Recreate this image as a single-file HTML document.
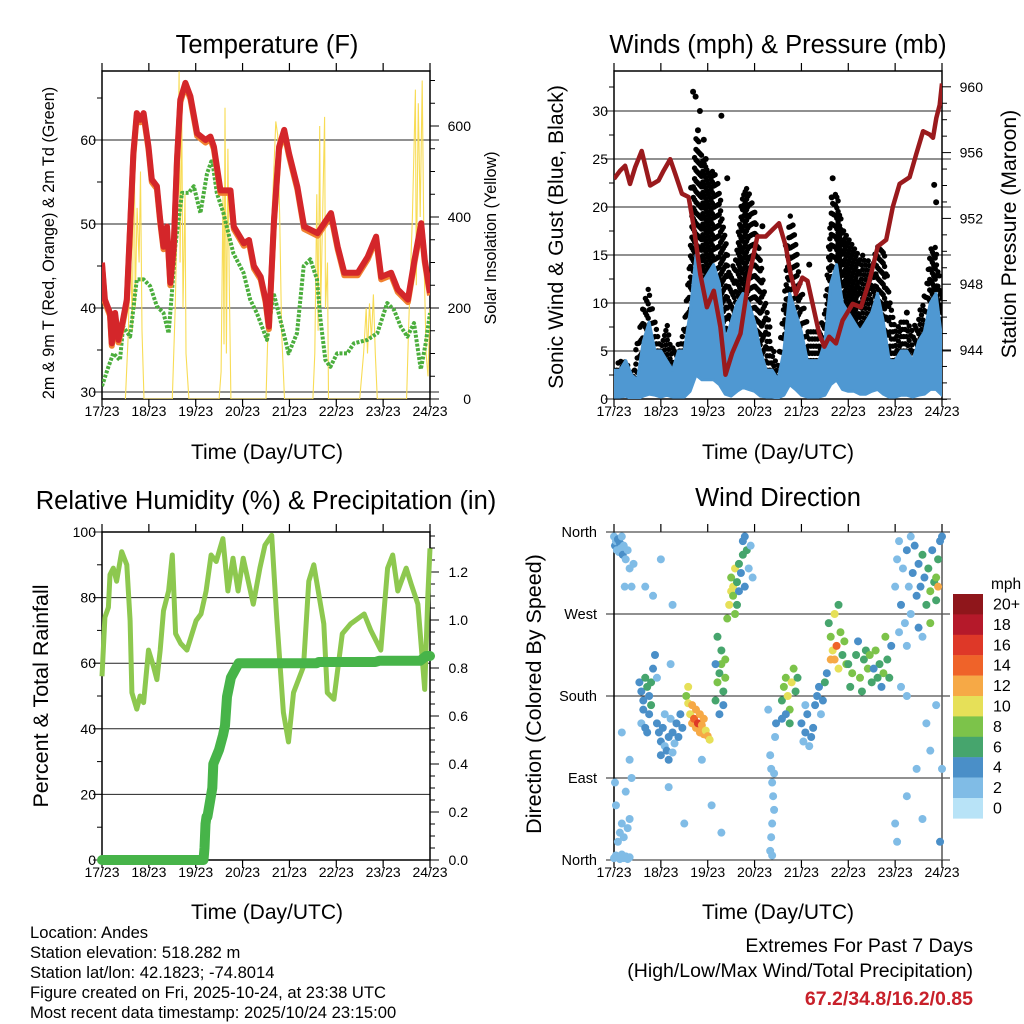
<!DOCTYPE html>
<html><head><meta charset="utf-8"><style>
body{margin:0;background:#fff;width:1024px;height:1024px;overflow:hidden;font-family:"Liberation Sans",sans-serif}
svg{display:block}
text{font-family:"Liberation Sans",sans-serif;fill:#000}
</style></head><body>
<svg id="s" width="1024" height="1024" viewBox="0 0 1024 1024">
<g>
<text x="267" y="53" font-size="25.5" text-anchor="middle">Temperature (F)</text>
<text x="778" y="53" font-size="25.5" text-anchor="middle">Winds (mph) &amp; Pressure (mb)</text>
<text x="266" y="509" font-size="25.5" text-anchor="middle">Relative Humidity (%) &amp; Precipitation (in)</text>
<text x="778" y="506" font-size="25.5" text-anchor="middle">Wind Direction</text>
</g>
<g>
<text x="267" y="459" font-size="21" text-anchor="middle">Time (Day/UTC)</text>
<text x="778" y="459" font-size="21" text-anchor="middle">Time (Day/UTC)</text>
<text x="267" y="919" font-size="21" text-anchor="middle">Time (Day/UTC)</text>
<text x="778" y="919" font-size="21" text-anchor="middle">Time (Day/UTC)</text>
<text transform="translate(54,243) rotate(-90)" font-size="16.2" text-anchor="middle">2m &amp; 9m T (Red, Orange) &amp; 2m Td (Green)</text>
<text transform="translate(496,238) rotate(-90)" font-size="16.2" text-anchor="middle">Solar Insolation (Yellow)</text>
<text transform="translate(563,237) rotate(-90)" font-size="21.2" text-anchor="middle">Sonic Wind &amp; Gust (Blue, Black)</text>
<text transform="translate(1016,234) rotate(-90)" font-size="21.2" text-anchor="middle">Station Pressure (Maroon)</text>
<text transform="translate(48,696) rotate(-90)" font-size="21.5" text-anchor="middle">Percent &amp; Total Rainfall</text>
<text transform="translate(541,694) rotate(-90)" font-size="21.5" text-anchor="middle">Direction (Colored By Speed)</text>
</g>
<g font-size="16.6">
<text x="30" y="938">Location: Andes</text>
<text x="30" y="958">Station elevation: 518.282 m</text>
<text x="30" y="978">Station lat/lon: 42.1823; -74.8014</text>
<text x="30" y="998">Figure created on Fri, 2025-10-24, at 23:38 UTC</text>
<text x="30" y="1018">Most recent data timestamp: 2025/10/24 23:15:00</text>
</g>
<g font-size="19.5" text-anchor="end">
<text x="973" y="952">Extremes For Past 7 Days</text>
<text x="973" y="977">(High/Low/Max Wind/Total Precipitation)</text>
<text x="973" y="1005" font-weight="bold" style="fill:#c8202a">67.2/34.8/16.2/0.85</text>
</g>
</svg>
<script>
const dayLabels=["17/23","18/23","19/23","20/23","21/23","22/23","23/23","24/23"];
const tempHours=[0,1.5,4.1,5,6.7,8.4,10.1,12.7,14.4,16.1,17.8,19.5,21.3,23.8,25.5,28.1,29.8,31.5,33.3,35,36.7,38.4,40.1,42.7,45.3,48.7,53,55.5,57.3,60.7,65.8,67.5,72.7,75.3,77.8,81.3,83.8,85.5,88.1,90.7,93.3,95.8,100.1,103.5,110.4,113.8,117.3,120.7,124.1,131,136.1,140.4,143,148.1,151.5,156.7,160.1,163.5,165.3,168];
const tempRed=[45.4,41,39.4,35.8,39.4,36.2,37.8,41,49.7,58.5,63.2,62.4,63.2,59.2,55.3,54.5,50.5,47.3,49.7,43,47.3,57.7,64.8,66.8,65.2,60.8,60,60.4,59.2,54,54,49.7,47.7,48.1,45,43.7,41,37.8,50.5,59.2,61.2,58.4,54.4,49.7,48.9,50.1,51.3,47.3,44.2,44.2,46.1,48.5,43.7,44.2,42.2,41,45.8,50.1,45.8,41.8];
const dewHours=[0,3.3,5.8,9.2,10.8,14.4,17.8,21.3,24.7,28.1,31.5,34.1,35.8,37.5,41,44.4,47,50.4,53.8,56.4,58.8,62.2,67.3,72.5,75.9,79.3,84.5,87.9,91.3,95.6,99.9,103.3,106.7,110.1,111.9,114.4,117,120.4,125.6,129,135.9,141,146.1,149.5,153,156.4,159.8,163.3,165.8,168];
const dewPt=[30.7,33,34.6,33.8,37.8,36.6,43.4,43.4,42.6,40.2,39.4,37,41.8,47.3,53.7,53.7,54.5,51.3,56,57.7,53.7,51.3,46.5,44.2,41,39.4,36.2,41.8,38.6,34.6,37,45,45.8,43.4,38.6,33.8,33,34.6,34.6,35.8,36.2,37,40.6,39.8,37.8,36.6,38.2,32.7,35.8,39.4];
const solarHours=[12,13.5,14.5,15.5,16.5,17,18,19,19.7,20.5,21.5,36,37.5,38.5,39.5,40,40.8,41.5,42.5,43,44.5,60,61,62,62.5,63,63.7,64.5,65.2,66,84,86,88,89,90,91,92,93.5,108,109,110,110.7,111.5,112,113,114,114.5,115.5,116,132,134,135.3,136,137,138,139,140,141,156,157,159,160.5,161,162,163,164,165,166,167,168];
const solarVals=[0,150,380,150,620,200,420,300,500,150,0,0,200,400,720,300,650,200,450,100,0,0,60,450,120,640,100,550,250,0,0,300,500,610,580,400,150,0,0,100,450,150,600,200,400,620,200,300,0,0,100,200,100,210,130,230,100,0,0,150,400,680,250,650,400,700,300,100,50,200];
const presHours=[0,3.1,5.7,8.2,10.8,14.2,18.5,22.8,25.4,28.8,31.4,34.8,38.2,40.8,44.2,47.6,51.1,54.5,57.1,60.5,64.8,69.1,73.4,77.7,81.1,84.5,88,90.5,93.1,96.5,99.1,101.7,105.1,107.7,110.2,113.7,117.1,122.2,126.5,130.8,135.1,139.4,142.8,146.3,151.4,154.8,158.3,161.7,163.4,165.1,166.8,168];
const presVals=[954.4,954.9,955.2,954.1,955.1,956.1,954,954.3,954.9,955.6,954.7,953.5,953.3,951.5,948.6,946.6,947.6,945.4,942.5,943.8,945,948.4,950.9,950.9,951.3,951.7,950.3,948.6,947.4,948.4,948.2,946.8,945,944.2,944.8,944.4,945.8,946.8,946.6,948.2,950.3,950.7,952.7,954.1,954.5,955.9,957.3,957.1,956.9,958.1,958.9,960.2];
const windHours=[0,3,6,9,12,15,18,21,24,27,30,33,36,39,42,45,48,51,54,57,60,63,66,69,72,75,78,81,84,87,90,93,96,99,102,105,108,111,114,117,120,123,126,129,132,135,138,141,144,147,150,153,156,159,162,165,168];
const gustMax=[3,4.5,4,3,6,10,12,8,6,8,5.5,6,8,16,28,26,24,24,22,17,13,16,22,22,20,15,10,6,4,11,20,17,12,8,7,7,10,20,22,18,17,16,15,15,14,16,16,12,7,8,8,7,9,11,16,16,11];
const windMax=[3,3,4,2.5,2,6,8,5,5,4,3,5,5,9,15,12,13,14,12,6,8,10,11,10,8,5,3,3,2,5,11,9,7,4,4,4,6,12,14,10,9,8,7,8,9,11,8,4,4,5,5,4,6,7,10,11,6];
const windMin=[0.2,0.2,0.3,0,0,0.3,0.5,0.4,0.2,0.4,0.2,0.2,0.2,0.8,2.5,2,2,2,1.5,0.5,0.3,0.8,1.2,1,0.8,0.3,0.2,0.2,0.1,0.4,1.5,1,0.4,0.2,0.2,0.2,0.4,1.5,2,1,0.8,0.8,0.5,0.5,0.8,1,0.5,0.2,0.2,0.4,0.4,0.2,0.4,0.5,1,1,0.4];
const gustOutHours=[40.5,41.8,44,55,43,46,66,69,88,111.5,112,164,165,39.5,47,58,76,100,118,134,150];
const gustOutVals=[32,31.5,30,29.5,28,27,20,19,16,21,23,22.3,20.5,22,25,23,18,14,16,13,9];
const rhHours=[0,1.5,3.3,4.1,5.8,7.5,10.1,12.7,14.4,15.3,17.8,19.5,21.3,23.8,26.4,28.1,29.8,31.5,34.1,36,37.7,40.3,43.5,48.2,50.7,53.3,55.9,58.5,61.9,64.5,67.1,69.7,72.3,77.5,80.9,83.5,86.9,89.5,92.9,95.5,98.1,103.2,105.9,108.5,113.6,115.4,118.8,123.1,127.4,134.3,137.7,142.8,146.3,148.9,151.5,155.8,158.4,161.8,165.3,166.9,168];
const rhVals=[56,74,77,87,89,85,94,90,73,51,46,50,48,64,59,55,64,76,82,93,69,66,64,73,75,82,93,91,98,82,92,82,92,78,89,96,99,74,45,36,51,59,85,90,72,51,49,69,72,75,70,64,89,93,82,89,84,78,52,81,95];
const precipHours=[0,52,52.5,53,53.5,54,56.5,57,60,62,63,64,66,70,110,111,140,142,163,166,168];
const precipVals=[0,0,0.05,0.15,0.18,0.18,0.30,0.40,0.46,0.52,0.56,0.68,0.76,0.82,0.82,0.825,0.825,0.83,0.83,0.85,0.85];
const dirHours=[0,0.5,1,1.5,2,2.5,3,3.5,4,4.5,5,6,7,8,10,9,5.5,0,1,2,3,4,5,6,7,8,2,3,4,5,7,8,1,0.5,6,8,9,4,13,14,15,16,17,18,19,20,15,14,16,18,19,21,17,22,23,24,25,26,27,28,29,30,31,32,33,34,35,24,28,30,26,22,29,37,38,39,40,41,42,43,44,45,46,47,48,49,44,42,38,40,46,52,53,54,55,56,57,52,55,56,54,53,57,58,59,60,60,61,62,61,63,64,65,66,67,68,66,64,69,70,71,63,62,67,80,80.5,81,81.5,82,81,80.5,80,81,82,82.5,83,79,86,87,88,89,90,91,92,93,90,88,94,86,96,97,98,99,100,101,102,103,104,105,106,107,108,109,98,110,111,112,113,114,115,116,117,118,113,111,115,119,120,122,124,126,128,130,132,134,136,138,140,142,121,125,129,133,137,139,127,131,135,141,144,145,146,147,148,149,150,151,152,153,154,155,156,157,158,159,160,161,162,163,164,165,166,167,168,146,150,156,162,165,152,158,166,144,145,150,155,158,160,165,167,168,150,162,147,20,24,16,30,28,36,45,50,55];
const dirDeg=[355,345,350,340,352,338,348,342,355,335,345,330,340,320,325,300,300,2,5,3,1,6,2,4,1,3,20,30,40,25,35,45,60,85,75,110,90,140,195,185,175,200,190,180,170,210,165,150,145,160,195,225,140,150,140,130,145,125,120,135,155,140,128,150,135,160,145,115,110,118,160,200,215,180,172,160,150,155,145,150,140,148,138,142,136,132,160,165,190,170,155,175,195,205,215,185,200,215,230,170,160,245,220,265,280,295,310,300,320,290,305,325,315,335,300,340,350,295,320,345,310,280,270,355,115,100,85,70,55,40,25,10,5,95,135,150,165,175,190,200,180,165,195,210,185,150,160,200,155,150,130,140,160,125,135,145,170,180,190,160,175,195,205,170,260,245,230,220,235,210,250,225,240,270,220,280,215,215,205,225,200,220,210,195,230,215,205,220,235,190,240,230,210,190,245,185,225,200,200,300,330,350,280,320,260,340,300,270,315,345,290,325,300,335,310,280,320,295,340,305,285,330,350,355,250,235,255,260,310,355,245,300,40,20,70,100,45,150,170,20,100,180,120,190,290,330,300,280,80,40,110,60,30];
const dirSpeed=[2,3,2,2,3,2,3,2,2,3,2,1,1,1,2,1,1,2,1,1,2,1,1,1,2,1,1,1,1,1,1,1,1,1,1,1,2,1,4,3,4,5,6,4,5,4,3,2,4,4,6,4,3,3,4,3,4,2,3,3,2,3,2,3,4,3,4,4,3,2,2,1,1,8,10,10,12,14,12,16,12,12,12,10,12,10,12,12,10,12,12,6,8,6,8,6,8,4,6,4,4,6,8,8,10,10,8,10,10,8,6,6,4,6,4,6,4,4,2,2,2,6,8,4,2,2,2,2,2,2,2,2,2,2,2,4,2,6,8,8,10,8,10,8,6,6,4,6,4,3,2,4,3,2,4,3,4,4,4,2,4,6,4,2,6,8,10,12,14,10,8,6,8,10,12,6,8,6,8,6,8,6,8,6,8,6,8,6,4,6,4,6,4,4,8,6,8,6,6,2,2,2,3,2,2,4,2,2,4,4,3,4,4,6,4,6,6,8,4,6,6,6,4,4,2,2,4,8,8,2,2,12,2,1,2,1,1,1,2,3,2,2,1,1,2,2,1,2,1,1,2,1,1];
const speedLabels=["20+","18","16","14","12","10","8","6","4","2","0"];
const speedColors=["#b8e3f7","#80bce6","#4a8fc8","#46a56d","#7cc34a","#e6e058","#f6a946","#ef6329","#de3828","#b5192a","#8f161b"];

const NS="http://www.w3.org/2000/svg";
const svg=document.getElementById('s');
function mk(tag,attrs,parent){const e=document.createElementNS(NS,tag);for(const k in attrs)e.setAttribute(k,attrs[k]);(parent||svg).appendChild(e);return e;}
function txt(x,y,s,size,anchor,parent){const t=mk('text',{x:x,y:y,'font-size':size,'text-anchor':anchor||'middle'},parent);t.textContent=s;return t;}
function scale(d0,d1,r0,r1){return v=>r0+(v-d0)/(d1-d0)*(r1-r0);}
function pathD(xs,ys,fx,fy){return xs.map((h,i)=>(i?'L':'M')+fx(h).toFixed(1)+' '+fy(ys[i]).toFixed(1)).join(' ');}
function interp(xs,ys,x){for(let i=1;i<xs.length;i++){if(x<=xs[i]){const t=(x-xs[i-1])/(xs[i]-xs[i-1]);return ys[i-1]+t*(ys[i]-ys[i-1]);}}return ys[ys.length-1];}

function frame(x0,x1,y0,y1,name,showTopTicks){
  const g=mk('g',{});
  
  
  const fx=scale(0,168,x0,x1);
  for(let d=0;d<=7;d++){
    const x=fx(d*24);
    mk('line',{x1:x,x2:x,y1:y1,y2:y1+8,stroke:'#000','stroke-width':1.2},g);
    if(showTopTicks)mk('line',{x1:x,x2:x,y1:y0,y2:y0-8,stroke:'#000','stroke-width':1.2},g);
    const t=txt(x,y1+17,dayLabels[d],14,'middle',g);
    
    
  }
  return {g,fx};
}
function yAxis(g,x,dir,y0,y1,fy,major,minor,lo,hi,fmt,grid,gx0,gx1,labelX,anchor,size){
  for(let v=lo;v<=hi+1e-9;v+=minor){
    const y=fy(v);if(y<y0-0.5||y>y1+0.5)continue;
    const isMaj=Math.abs(v/major-Math.round(v/major))<1e-6;
    mk('line',{x1:x,x2:x+dir*(isMaj?9:5),y1:y,y2:y,stroke:'#000','stroke-width':1},g);
    if(isMaj){
      if(grid)mk('line',{x1:gx0,x2:gx1,y1:y,y2:y,stroke:'#222','stroke-width':1},g);
      const t=txt(labelX,y+5,fmt(v),size||14,anchor,g);
      
      
    }
  }
}

/* ---------- Panel 1: Temperature ---------- */
(function(){
  const x0=102,x1=430,y0=71,y1=399;
  const {g,fx}=frame(x0,x1,y0,y1,'temperature',true);
  const fy=v=>392-(v-30)*8.4;
  const fs=v=>399-v*0.455;
  yAxis(g,x0,-1,y0,y1,fy,10,5,30,65,v=>v,true,x0-9,x1+9,x0-6,'end');
  yAxis(g,x1,1,y0,y1,fs,200,50,0,700,v=>v,false,0,0,x1+41,'end');
  const clip=mk('clipPath',{id:'c1'});mk('rect',{x:x0,y:y0,width:x1-x0,height:y1-y0},clip);
  const p=mk('g',{'clip-path':'url(#c1)'});
  
  
  const sol=mk('path',{d:pathD(solarHours,solarVals,fx,fs),fill:'none',stroke:'#f8dc55','stroke-width':1.1},p);
  
  
  const dew=mk('path',{d:pathD(dewHours,dewPt,fx,fy),fill:'none',stroke:'#4bae3d','stroke-width':4,'stroke-dasharray':'3 1.5','stroke-linejoin':'round'},p);
  
  
  const or=mk('path',{d:pathD(tempHours,tempRed,fx,fy),fill:'none',stroke:'#f08130','stroke-width':6,'stroke-linejoin':'round',transform:'translate(0,2.5)'},p);
  
  
  const rd=mk('path',{d:pathD(tempHours,tempRed,fx,fy),fill:'none',stroke:'#d4262a','stroke-width':6,'stroke-linejoin':'round'},p);
  
  
  mk('rect',{x:x0,y:y0,width:x1-x0,height:y1-y0,fill:'none',stroke:'#000','stroke-width':1.5},g);
})();

/* ---------- Panel 2: Winds ---------- */
(function(){
  const x0=614,x1=942,y0=71,y1=399;
  const {g,fx}=frame(x0,x1,y0,y1,'winds',true);
  const fy=v=>399-v*9.6;
  const fp=v=>350-(v-944)*16.45;
  yAxis(g,x0,-1,y0,y1,fy,5,2.5,0,34,v=>v,true,x0-9,x1+9,x0-6,'end');
  yAxis(g,x1,1,y0,y1,fp,4,1,941,961,v=>v,false,0,0,x1+41,'end');
  const clip=mk('clipPath',{id:'c2'});mk('rect',{x:x0,y:y0,width:x1-x0,height:y1-y0},clip);
  const p=mk('g',{'clip-path':'url(#c2)'});
  
  
  const gg=mk('g',{fill:'#000'},p);
  
  
  let col=0;
  for(let h=0;h<=168;h+=0.7,col++){
    const gm=interp(windHours,gustMax,h), wm=interp(windHours,windMax,h);
    const step=gm>15?1.1:1.5;
    for(let v=wm+(col%2)*step/2;v<=gm;v+=step){
      const c=mk('circle',{cx:fx(h).toFixed(1),cy:fy(v).toFixed(1),r:2.7},gg);
      
      
    }
  }
  gustOutHours.forEach((h,i)=>{
    const c=mk('circle',{cx:fx(h),cy:fy(gustOutVals[i]),r:3,fill:'#000'},gg);
    
    
  });
  const wd=pathD(windHours,windMax,fx,fy)+' '+windHours.slice().reverse().map(h=>'L'+fx(h).toFixed(1)+' '+fy(windMin[windHours.indexOf(h)]).toFixed(1)).join(' ')+'Z';
  const wa=mk('path',{d:wd,fill:'#4f98d2',stroke:'#4f98d2','stroke-width':3,'stroke-linejoin':'round'},p);
  
  
  const pl=mk('path',{d:pathD(presHours,presVals,fx,fp),fill:'none',stroke:'#9a1a1d','stroke-width':4.5,'stroke-linejoin':'round'},p);
  
  
  mk('rect',{x:x0,y:y0,width:x1-x0,height:y1-y0,fill:'none',stroke:'#000','stroke-width':1.5},g);
})();

/* ---------- Panel 3: RH & precip ---------- */
(function(){
  const x0=102,x1=430,y0=532,y1=860;
  const {g,fx}=frame(x0,x1,y0,y1,'humidity',true);
  const fy=v=>860-v*3.28;
  const fp=v=>860-v*240;
  yAxis(g,x0,-1,y0,y1,fy,20,10,0,100,v=>v,true,x0-9,x1,x0-6,'end');
  yAxis(g,x1,1,y0,y1,fp,0.2,0.05,0,1.35,v=>v.toFixed(1),false,0,0,x1+38,'end');
  const clip=mk('clipPath',{id:'c3'});mk('rect',{x:x0-8,y:y0,width:x1-x0+16,height:y1-y0+8},clip);
  const p=mk('g',{'clip-path':'url(#c3)'});
  
  
  const rl=mk('path',{d:pathD(rhHours,rhVals,fx,fy),fill:'none',stroke:'#8dc84f','stroke-width':5,'stroke-linejoin':'round'},p);
  
  
  const pr=mk('path',{d:pathD(precipHours,precipVals,fx,fp),fill:'none',stroke:'#47b449','stroke-width':10,'stroke-linejoin':'round','stroke-linecap':'round'},p);
  
  
  mk('rect',{x:x0,y:y0,width:x1-x0,height:y1-y0,fill:'none',stroke:'#000','stroke-width':1.5},g);
})();

/* ---------- Panel 4: Wind direction ---------- */
(function(){
  const x0=614,x1=942,y0=532,y1=860;
  const {g,fx}=frame(x0,x1,y0,y1,'direction',true);
  const fy=v=>860-v*(328/360);
  const names=["North","East","South","West","North"];
  [0,90,180,270,360].forEach((d,i)=>{
    const y=fy(d);
    mk('line',{x1:x0-8,x2:x1+8,y1:y,y2:y,stroke:'#222','stroke-width':1},g);
    const t=txt(x0-17,y+5,names[i],14.5,'end',g);
    
    
  });
  const p=mk('g',{});
  
  
  dirHours.forEach((h,i)=>{
    const lvl=Math.min(10,Math.round(dirSpeed[i]/2));
    const c=mk('circle',{cx:fx(h),cy:fy(dirDeg[i]),r:4,fill:speedColors[lvl]},p);
    
    
  });
  mk('line',{x1:x0,x2:x0,y1:y0,y2:y1,stroke:'#000','stroke-width':1.5},g);
  mk('line',{x1:x1,x2:x1,y1:y0,y2:y1,stroke:'#555','stroke-width':1.5},g);
  const cb=mk('g',{});
  
  
  const ml=txt(991,589,'mph',15.5,'start',cb);
  
  
  speedLabels.forEach((s,i)=>{
    const y=594+i*20.4;
    const r=mk('rect',{x:953,y:y,width:30,height:20.6,fill:speedColors[10-i]},cb);
    
    
    const t=txt(993,y+15.5,s,16,'start',cb);
    
    
  });
})();
</script>
</body></html>
